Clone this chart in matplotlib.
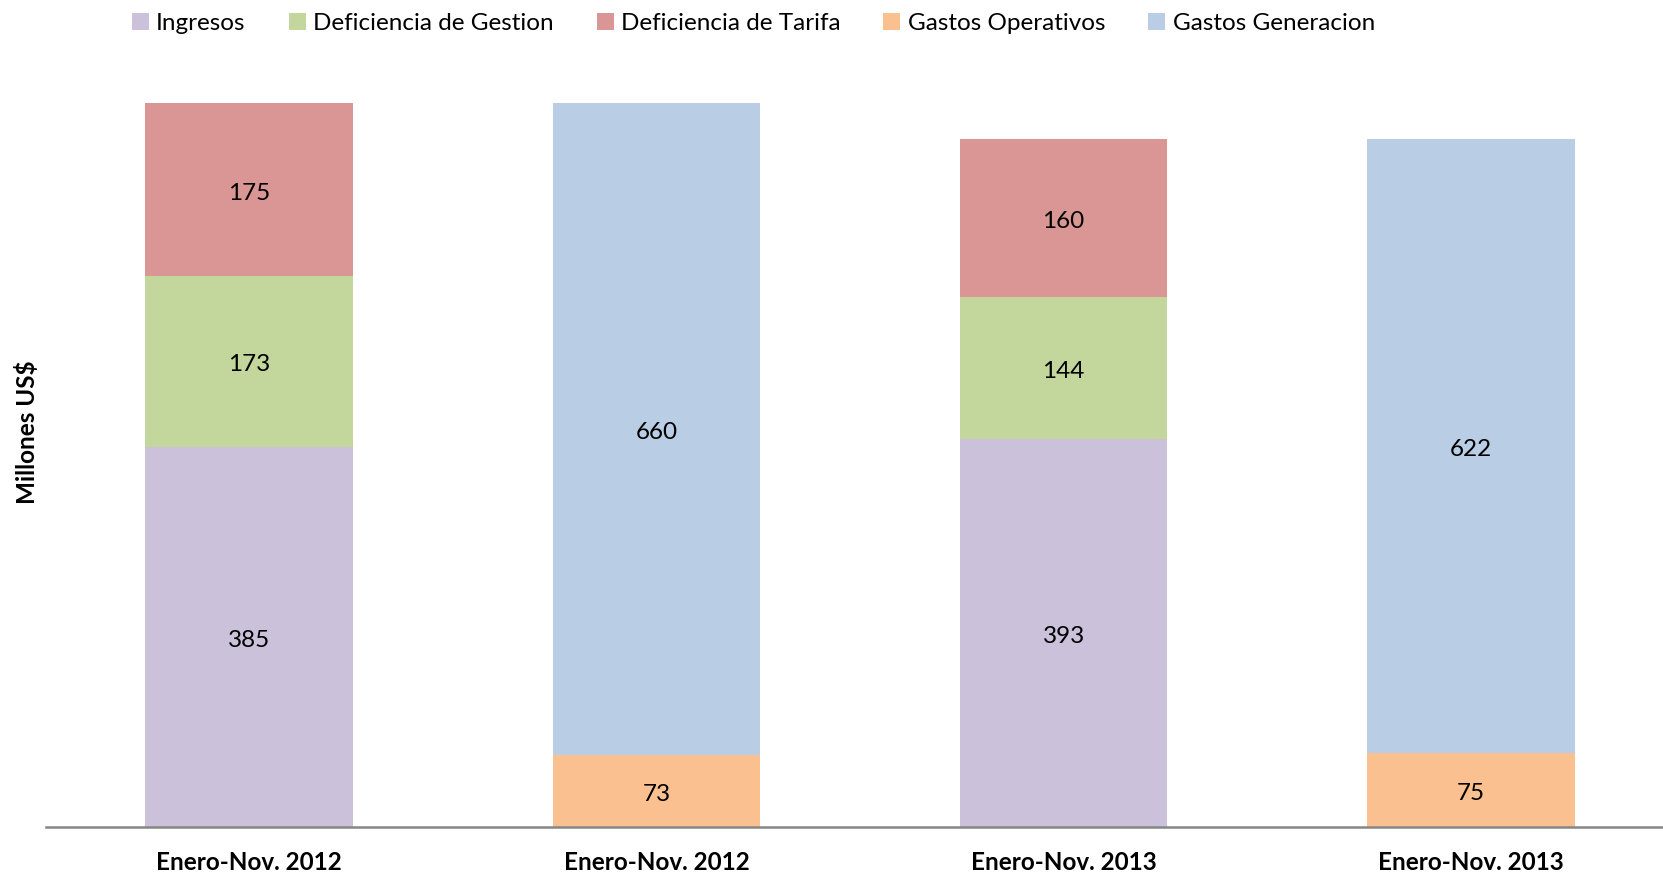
import numpy as np
import matplotlib.pyplot as plt

plt.rcParams['font.family'] = ['Lato', 'DejaVu Sans']

categorias = ['Enero-Nov. 2012', 'Enero-Nov. 2012', 'Enero-Nov. 2013', 'Enero-Nov. 2013']
ingresos = [385, 0, 393, 0]
def_gestion = [173, 0, 144, 0]
def_tarifa = [175, 0, 160, 0]
gastos_oper = [0, 73, 0, 75]
gastos_gen = [0, 660, 0, 622]

series = [
    ('Ingresos', ingresos, '#CCC1DA'),
    ('Deficiencia de Gestion', def_gestion, '#C3D69B'),
    ('Deficiencia de Tarifa', def_tarifa, '#D99694'),
    ('Gastos Operativos', gastos_oper, '#FAC090'),
    ('Gastos Generacion', gastos_gen, '#B9CDE5'),
]

fig = plt.figure(figsize=(16.63, 8.75), dpi=100)
ax = fig.add_axes([45.5 / 1663, 48 / 875, 1629 / 1663, 790 / 875])

x = np.arange(len(categorias))
bottom = np.zeros(len(categorias))
for nombre, vals, color in series:
    vals = np.array(vals, dtype=float)
    bars = ax.bar(x, vals, 0.51, bottom=bottom, color=color, label=nombre)
    for b, v, y0 in zip(bars, vals, bottom):
        if v > 0:
            ax.annotate(f'{v:.0f}', (b.get_x() + b.get_width() / 2, y0 + v / 2),
                        xytext=(0, -2.5), textcoords='offset points',
                        ha='center', va='center', fontsize=17.5, color='black')
    bottom += vals

ax.set_xlim(-0.5, 3.5)
ax.set_ylim(0, 800)
ax.set_xticks(x)
ax.set_xticklabels(categorias, fontsize=17.5, fontweight='bold')
ax.tick_params(axis='x', length=0, pad=17)
ax.set_yticks([])
for s in ['top', 'right', 'left']:
    ax.spines[s].set_visible(False)
ax.spines['bottom'].set_color('#868686')
ax.spines['bottom'].set_linewidth(1.8)

fig.text(27 / 1663, 1 - 432 / 875, 'Millones US$', rotation=90, ha='center', va='center',
         fontsize=17.5, fontweight='bold')

fig.legend(loc='upper left', bbox_to_anchor=(122 / 1663, 0.996), ncol=5, frameon=False,
           fontsize=17.5, handlelength=0.7, handleheight=0.7, handletextpad=0.3,
           columnspacing=1.77, borderaxespad=0)

fig.savefig('out.png', dpi=100)
